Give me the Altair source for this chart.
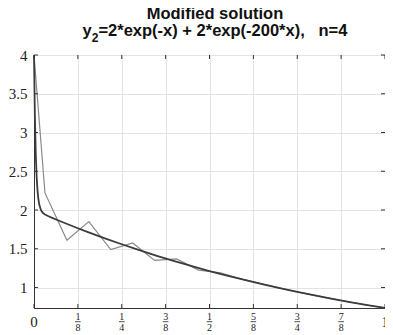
import altair as alt
import pandas as pd

# exact solution (dark curve)
exact_x = [0, 0.0025, 0.005, 0.0075, 0.01, 0.0125, 0.015, 0.02, 0.025, 0.03, 0.04, 0.05,
           0.075, 0.1, 0.125, 0.15, 0.2, 0.25, 0.3, 0.35, 0.4, 0.45, 0.5, 0.55, 0.6,
           0.65, 0.7, 0.75, 0.8, 0.85, 0.9, 0.95, 1.0]
exact_y = [4.0, 3.208, 2.726, 2.431, 2.251, 2.139, 2.070, 1.997, 1.964, 1.946, 1.922, 1.902,
           1.855, 1.810, 1.765, 1.721, 1.637, 1.558, 1.482, 1.409, 1.341, 1.275, 1.213, 1.154, 1.098,
           1.044, 0.993, 0.945, 0.899, 0.855, 0.813, 0.774, 0.736]

# modified numerical solution (gray curve)
num_x = [0, 1/32, 3/32, 5/32, 7/32, 9/32, 11/32, 13/32, 15/32, 17/32, 19/32, 21/32,
         23/32, 25/32, 27/32, 29/32, 31/32, 1.0]
num_y = [4.0, 2.22, 1.61, 1.85, 1.49, 1.575, 1.35, 1.37, 1.225, 1.19, 1.105, 1.04,
         0.975, 0.915, 0.86, 0.807, 0.758, 0.736]

y_ticks = [1, 1.5, 2, 2.5, 3, 3.5, 4]
x_ticks = [0, 0.125, 0.25, 0.375, 0.5, 0.625, 0.75, 0.875, 1.0]
frac_x = [0.125, 0.25, 0.375, 0.5, 0.625, 0.75, 0.875]
frac_num = ["1", "1", "3", "1", "5", "3", "7"]
frac_den = ["8", "4", "8", "2", "8", "4", "8"]
plain_x = [0, 1.0]
plain_txt = ["0", "1"]

title_line1 = ["Modified solution"]
title_y = ["y"]
title_sub = ["2"]
title_rest = ["=2*exp(-x) + 2*exp(-200*x),\u00a0\u00a0 n=4"]

W, H = 351, 253
Y_MIN = 0.7358

exact_df = pd.DataFrame({"x": exact_x, "y": exact_y})
num_df = pd.DataFrame({"x": num_x, "y": num_y})
yt_df = pd.DataFrame({"y": y_ticks})
xt_df = pd.DataFrame({"x": x_ticks})
frac_df = pd.DataFrame({"x": frac_x, "num": frac_num, "den": frac_den})
plain_df = pd.DataFrame({"x": plain_x, "t": plain_txt})

xs = alt.Scale(domain=[0, 1], nice=False, zero=False)
ys = alt.Scale(domain=[Y_MIN, 4], nice=False, zero=False)

x_axis = alt.Axis(values=x_ticks, labels=False, ticks=False, grid=True, gridColor="#e3e3e3",
                  domain=True, domainColor="#333333", title=None)
y_axis = alt.Axis(values=y_ticks, ticks=False, grid=True, gridColor="#e3e3e3", domain=True,
                  domainColor="#333333", labelFont="Liberation Serif", labelFontSize=15,
                  labelColor="#222222", labelPadding=7, title=None, format="~g")

gray = alt.Chart(num_df).mark_line(color="#8a8a8a", strokeWidth=1.2).encode(
    x=alt.X("x:Q", scale=xs, axis=x_axis),
    y=alt.Y("y:Q", scale=ys, axis=y_axis),
)
dark = alt.Chart(exact_df).mark_line(color="#3c3c3c", strokeWidth=1.8).encode(
    x=alt.X("x:Q", scale=xs), y=alt.Y("y:Q", scale=ys)
)

tick_color = "#333333"
left_ticks = alt.Chart(yt_df).mark_rule(color=tick_color, strokeWidth=1).encode(
    y=alt.Y("y:Q", scale=ys), x=alt.value(0), x2=alt.value(4))
right_ticks = alt.Chart(yt_df).mark_rule(color=tick_color, strokeWidth=1).encode(
    y=alt.Y("y:Q", scale=ys), x=alt.value(W - 4), x2=alt.value(W))
bottom_ticks = alt.Chart(xt_df).mark_rule(color=tick_color, strokeWidth=1).encode(
    x=alt.X("x:Q", scale=xs), y=alt.value(H), y2=alt.value(H - 4))
top_ticks = alt.Chart(xt_df).mark_rule(color=tick_color, strokeWidth=1).encode(
    x=alt.X("x:Q", scale=xs), y=alt.value(0), y2=alt.value(4))

numer = alt.Chart(frac_df).mark_text(font="Liberation Serif", fontSize=10, color="#222222",
                                     baseline="middle").encode(
    x=alt.X("x:Q", scale=xs), y=alt.value(H + 8.5), text="num:N")
denom = alt.Chart(frac_df).mark_text(font="Liberation Serif", fontSize=10, color="#222222",
                                     baseline="middle").encode(
    x=alt.X("x:Q", scale=xs), y=alt.value(H + 19.5), text="den:N")
bars = alt.Chart(frac_df).mark_rule(color="#222222", strokeWidth=0.8, xOffset=-2.8,
                                    x2Offset=2.8).encode(
    x=alt.X("x:Q", scale=xs), x2="x:Q", y=alt.value(H + 13.7))
plain = alt.Chart(plain_df).mark_text(font="Liberation Serif", fontSize=15, color="#222222",
                                      baseline="middle").encode(
    x=alt.X("x:Q", scale=xs), y=alt.value(H + 13.5), text="t:N")

# ---- title, drawn as text so that the subscript can be lowered ----
TF = 16.5          # main title font size
SF = 12            # subscript font size
CX = 181.0         # title centre in plot pixels
w_y = 0.556 * TF
w_sub = 0.556 * SF
w_rest = 15.09 * TF
x0 = CX - (w_y + w_sub + w_rest) / 2
tstyle = dict(font="Liberation Sans", fontWeight="bold", color="#111111", baseline="alphabetic")

t1 = alt.Chart(pd.DataFrame({"t": title_line1})).mark_text(fontSize=TF, align="center", **tstyle).encode(
    x=alt.value(CX), y=alt.value(-36), text="t:N")
t2a = alt.Chart(pd.DataFrame({"t": title_y})).mark_text(fontSize=TF, align="left", **tstyle).encode(
    x=alt.value(x0), y=alt.value(-19), text="t:N")
t2b = alt.Chart(pd.DataFrame({"t": title_sub})).mark_text(fontSize=SF, align="left", **tstyle).encode(
    x=alt.value(x0 + w_y), y=alt.value(-13.5), text="t:N")
t2c = alt.Chart(pd.DataFrame({"t": title_rest})).mark_text(fontSize=TF, align="left", **tstyle).encode(
    x=alt.value(x0 + w_y + w_sub), y=alt.value(-19), text="t:N")

chart = alt.layer(
    gray, dark, left_ticks, right_ticks, bottom_ticks, top_ticks, numer, denom, bars, plain,
    t1, t2a, t2b, t2c
).properties(
    width=W, height=H,
    autosize=alt.AutoSizeParams(type="none"),
    padding={"left": 26, "top": 47, "right": 0, "bottom": 27},
).configure_view(stroke="#333333", strokeWidth=1)

chart.save("out.html", embed_options={"renderer": "svg", "actions": False})
